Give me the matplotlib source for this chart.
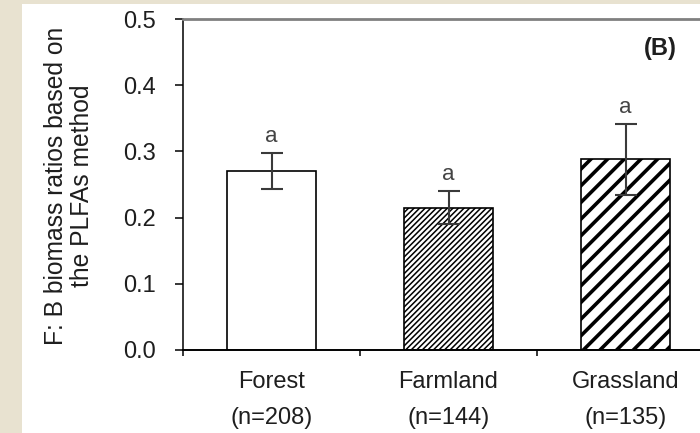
"""
F:B biomass ratios (PLFA method) by land use - panel (B).
"""
import matplotlib
matplotlib.use("Agg")
import matplotlib.pyplot as plt
from matplotlib.patches import Rectangle

# === DATA ===
land_uses = ["Forest", "Farmland", "Grassland"]
sample_sizes = ["(n=208)", "(n=144)", "(n=135)"]
fb_ratio = [0.270, 0.215, 0.288]
fb_se = [0.027, 0.025, 0.054]
letters = ["a", "a", "a"]
y_ticks = [0.0, 0.1, 0.2, 0.3, 0.4, 0.5]

# === STYLE ===
plt.rcParams["font.family"] = ["Liberation Sans", "DejaVu Sans"]
FS = 17
TXT = "#1e1e1e"
PAGE = "#E8E2D0"
hatches = ["", "//////", "//"]
hatch_lw = [1.0, 1.1, 2.6]

fig = plt.figure(figsize=(7.0, 4.33), dpi=100)
fig.patch.set_facecolor("white")
# page margin strips around the panel
fig.patches.append(Rectangle((0, 0), 22 / 700, 1, transform=fig.transFigure,
                             facecolor=PAGE, edgecolor="none", zorder=-1))
fig.patches.append(Rectangle((0, 1 - 4 / 433), 1, 4 / 433, transform=fig.transFigure,
                             facecolor=PAGE, edgecolor="none", zorder=-1))

ax = fig.add_axes([183 / 700, 83 / 433, 531 / 700, 331 / 433])
x = list(range(len(land_uses)))

bars = []
for i in x:
    with plt.rc_context({"hatch.linewidth": hatch_lw[i], "hatch.color": "black"}):
        b = ax.bar(i, fb_ratio[i], width=0.5, facecolor="white", edgecolor="black",
                   linewidth=1.2, hatch=hatches[i], zorder=2)[0]
    if hasattr(b, "set_hatch_linewidth"):
        b.set_hatch_linewidth(hatch_lw[i])
    bars.append(b)

ax.errorbar(x, fb_ratio, yerr=fb_se, fmt="none", ecolor="#3a3a3a",
            elinewidth=1.5, capsize=8, capthick=1.5, zorder=3)

for i in x:
    ax.text(i, fb_ratio[i] + fb_se[i] + 0.025, letters[i], ha="center", va="center",
            fontsize=FS - 1, color="#444444")

ax.text(0.898, 0.912, "(B)", transform=ax.transAxes, ha="center", va="center",
        fontsize=FS, fontweight="bold", color=TXT)

ax.set_xlim(-0.5, 2.5)
ax.set_ylim(0, 0.5)
ax.set_yticks(y_ticks)
ax.set_yticklabels([f"{v:.1f}" for v in y_ticks], fontsize=FS, color=TXT)
ax.tick_params(axis="y", direction="out", length=5.8, width=1.1, pad=14)

# category boundaries as major ticks, names on minor ticks
ax.set_xticks([-0.5, 0.5, 1.5, 2.5])
ax.set_xticklabels([])
ax.set_xticks(x, minor=True)
ax.set_xticklabels([f"{n}\n{s}" for n, s in zip(land_uses, sample_sizes)],
                   minor=True, fontsize=FS, color=TXT, linespacing=1.85)
ax.tick_params(axis="x", which="major", direction="out", length=4.3, width=1.1)
ax.tick_params(axis="x", which="minor", length=0, pad=15)

ax.spines["left"].set_linewidth(1.1)
ax.spines["bottom"].set_linewidth(1.4)
ax.spines["top"].set_color("#808080")
ax.spines["top"].set_linewidth(2.0)
ax.spines["right"].set_visible(False)

fig.text(69 / 700, (433 - 186) / 433, "F: B biomass ratios based on\nthe PLFAs method",
         rotation=90, ha="center", va="center", multialignment="center",
         fontsize=FS + 0.7, color=TXT, linespacing=1.1)

# top of the next panel's tick label peeking in at the bottom edge
fig.text(155 / 700, 0.2 / 433, "10.0", ha="right", va="top", fontsize=FS, color=TXT)

fig.savefig("out.png", dpi=100)
